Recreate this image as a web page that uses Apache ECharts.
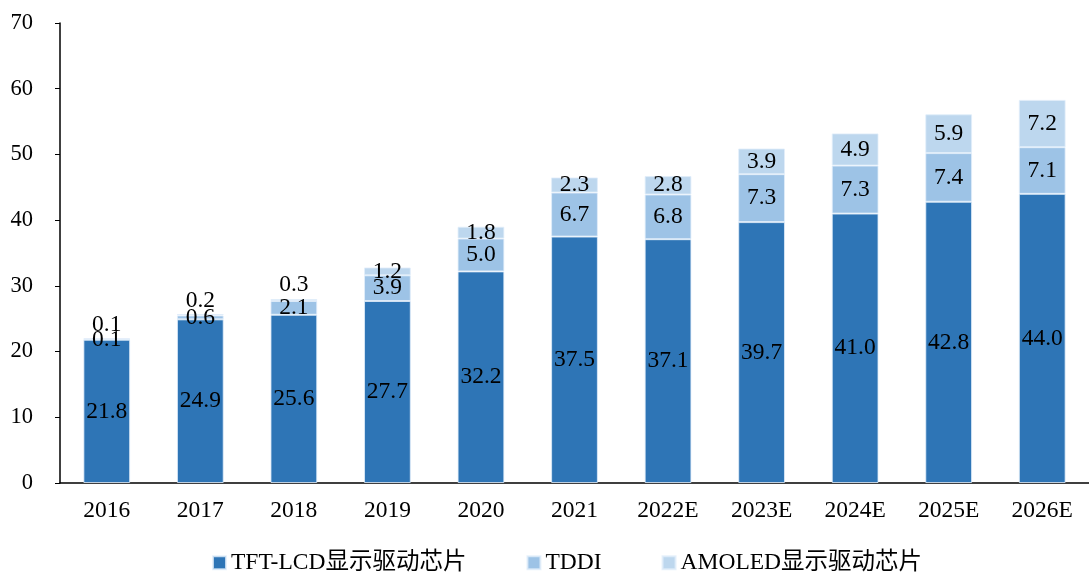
<!DOCTYPE html>
<html><head><meta charset="utf-8">
<script src="https://cdn.jsdelivr.net/npm/echarts@6/dist/echarts.min.js"></script>
<style>html,body{margin:0;padding:0;background:#fff}#c{width:1089px;height:572px}</style>
</head><body><div id="c"></div>
<script>
const categories = ['2016','2017','2018','2019','2020','2021','2022E','2023E','2024E','2025E','2026E'];
const tftLcd = [21.8, 24.9, 25.6, 27.7, 32.2, 37.5, 37.1, 39.7, 41.0, 42.8, 44.0];
const tddi   = [0.1, 0.6, 2.1, 3.9, 5.0, 6.7, 6.8, 7.3, 7.3, 7.4, 7.1];
const amoled = [0.1, 0.2, 0.3, 1.2, 1.8, 2.3, 2.8, 3.9, 4.9, 5.9, 7.2];
const seriesNames = ['TFT-LCD显示驱动芯片', 'TDDI', 'AMOLED显示驱动芯片'];
const yTicks = [0, 10, 20, 30, 40, 50, 60, 70];

const FONT = "'Liberation Serif', 'Times New Roman', 'Noto Sans CJK SC', serif";
const colors = ['#2E75B6', '#9DC3E6', '#BDD7EE'];

const chart = echarts.init(document.getElementById('c'));
function mk(name, vals, color, idx) {
  return {
    name: name, type: 'bar', stack: 'total', barWidth: '50%',
    itemStyle: { color: color, borderColor: 'rgba(225,238,250,0.8)', borderWidth: 1 },
    label: { show: true, position: 'inside', color: '#000', fontFamily: FONT, fontSize: 23.5,
      formatter: p => p.value.toFixed(1) },
    data: vals.map((v, i) => {
      if (idx === 2 && v < 0.5) return { value: v, label: { position: 'top', distance: 2 } };
      return v;
    })
  };
}
chart.setOption({
  animation: false,
  color: colors,
  textStyle: { fontFamily: FONT },
  grid: { left: 60, top: 23, bottom: 89, width: 1037 },
  legend: {
    left: 207, top: 546, itemWidth: 13, itemHeight: 13, itemGap: 60, icon: 'rect',
    textStyle: { fontFamily: FONT, fontSize: 23.5, color: '#000' },
    data: seriesNames
  },
  xAxis: {
    type: 'category', data: categories,
    axisLine: { lineStyle: { color: '#000', width: 1.5 } },
    axisTick: { show: false },
    axisLabel: { color: '#000', fontFamily: FONT, fontSize: 23.5, margin: 16 }
  },
  yAxis: {
    type: 'value', min: yTicks[0], max: yTicks[yTicks.length - 1], interval: 10,
    axisLine: { show: true, lineStyle: { color: '#000', width: 1.5 } },
    axisTick: { show: true, length: 5, lineStyle: { color: '#000' } },
    splitLine: { show: false },
    axisLabel: { color: '#000', fontFamily: FONT, fontSize: 22.5, margin: 27 }
  },
  series: [
    mk(seriesNames[0], tftLcd, colors[0], 0),
    mk(seriesNames[1], tddi, colors[1], 1),
    mk(seriesNames[2], amoled, colors[2], 2)
  ]
});
</script></body></html>
